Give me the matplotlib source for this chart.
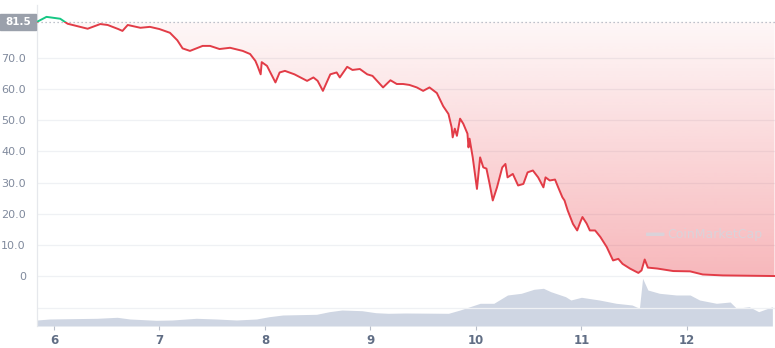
import numpy as np
import matplotlib
matplotlib.use("Agg")
import matplotlib.pyplot as plt
from matplotlib.patches import Rectangle, Circle
from matplotlib.transforms import blended_transform_factory

# ---- data ----
price_day = [5.84, 5.93, 6.06, 6.13, 6.32, 6.44, 6.51, 6.61, 6.65, 6.70, 6.82, 6.91, 7.00, 7.10,
             7.17, 7.22, 7.29, 7.41, 7.48, 7.57, 7.67, 7.79, 7.86, 7.91, 7.93, 7.96, 7.97, 8.02,
             8.10, 8.14, 8.19, 8.28, 8.40, 8.46, 8.50, 8.55, 8.62, 8.68, 8.71, 8.78, 8.83, 8.90,
             8.97, 9.02, 9.12, 9.19, 9.25, 9.31, 9.37, 9.44, 9.50, 9.56, 9.63, 9.69, 9.74, 9.77,
             9.78, 9.80, 9.82, 9.85, 9.88, 9.92, 9.93, 9.94, 9.97, 10.01, 10.04, 10.07, 10.10,
             10.13, 10.16, 10.20, 10.25, 10.28, 10.30, 10.35, 10.40, 10.45, 10.49, 10.54, 10.59,
             10.64, 10.66, 10.70, 10.75, 10.78, 10.82, 10.84, 10.87, 10.92, 10.96, 10.99, 11.01,
             11.05, 11.08, 11.13, 11.18, 11.24, 11.30, 11.35, 11.39, 11.46, 11.54, 11.57, 11.60,
             11.63, 11.72, 11.87, 12.03, 12.15, 12.34, 12.83]
price_val = [81.5, 83.1, 82.5, 80.9, 79.3, 80.8, 80.5, 79.2, 78.6, 80.5, 79.6, 79.9, 79.2, 78.0,
             75.6, 73.0, 72.2, 73.8, 73.8, 72.8, 73.2, 72.2, 71.2, 69.0, 67.4, 64.7, 68.6, 67.4,
             62.1, 65.3, 65.8, 64.7, 62.6, 63.7, 62.6, 59.4, 64.7, 65.3, 63.7, 67.1, 66.1, 66.4,
             64.7, 64.2, 60.5, 62.8, 61.6, 61.6, 61.3, 60.5, 59.4, 60.5, 58.7, 54.5, 52.0, 47.7,
             44.5, 47.3, 45.0, 50.5, 48.9, 45.7, 41.3, 44.1, 38.1, 28.0, 38.1, 34.9, 34.5,
             29.6, 24.3, 28.5, 34.9, 36.0, 31.7, 32.8, 29.1, 29.6, 33.3, 33.9, 31.7,
             28.5, 31.7, 30.7, 31.0, 28.5, 25.3, 24.3, 21.1, 16.8, 14.7, 17.4, 19.0,
             16.9, 14.7, 14.7, 12.6, 9.4, 5.1, 5.6, 4.0, 2.5, 1.1, 1.9, 5.4,
             2.8, 2.5, 1.7, 1.6, 0.6, 0.3, 0.1]

vol_day = [5.84, 5.96, 6.41, 6.60, 6.72, 6.97, 7.12, 7.35, 7.54, 7.73, 7.92, 8.04, 8.17, 8.49,
           8.61, 8.73, 8.92, 9.05, 9.17, 9.33, 9.74, 9.85, 10.04, 10.17, 10.30, 10.43, 10.55, 10.64,
           10.71, 10.85, 10.90, 11.00, 11.17, 11.33, 11.48, 11.55, 11.58, 11.63, 11.74, 11.90,
           12.03, 12.12, 12.28, 12.41, 12.47, 12.59, 12.68, 12.81]
vol_val = [6.0, 7.0, 7.7, 8.7, 7.0, 5.7, 6.0, 7.7, 7.0, 6.0, 7.0, 9.3, 11.0, 11.7,
           14.3, 16.0, 15.3, 13.3, 12.7, 13.0, 12.7, 16.0, 22.7, 22.7, 31.0, 32.7, 36.7, 37.7,
           34.3, 29.3, 26.0, 28.7, 26.0, 22.7, 21.0, 17.7, 47.7, 36.0, 32.7, 31.0,
           31.0, 26.0, 22.7, 24.0, 17.7, 19.3, 14.3, 19.3]

open_price = 81.5
y_ticks = [0, 10, 20, 30, 40, 50, 60, 70]
y_labels = ["0", "10.0", "20.0", "30.0", "40.0", "50.0", "60.0", "70.0"]
x_ticks = [6, 7, 8, 9, 10, 11, 12]
x_labels = ["6", "7", "8", "9", "10", "11", "12"]

# ---- styling ----
RED = "#e23c47"
GREEN = "#16c784"
GRID = "#eff1f4"
LABEL = "#808a9d"

W, H = 775, 348
fig = plt.figure(figsize=(W / 100, H / 100), dpi=100)
ax = fig.add_axes([37 / W, 22 / H, 1 - 37 / W, (326 - 5) / H])
x = np.array(price_day)
y = np.array(price_val)
x0, x1 = 5.84, 12.835
ax.set_xlim(x0, x1)
ax.set_ylim(-15.9, 86.9)

# grid
for t in y_ticks + [-10]:
    ax.axhline(t, color=GRID, lw=0.9, zorder=0)

# volume on twin axis
axv = ax.twinx()
axv.set_ylim(0, 321)
axv.fill_between(vol_day, vol_val, 0, color="#cfd6e3", lw=0, zorder=1)
axv.axis("off")
ax.set_zorder(axv.get_zorder() + 1)
ax.patch.set_visible(False)

# gradient fill between line and open price
poly = ax.fill_between(x, np.minimum(y, open_price), open_price, color="none", lw=0)
grad = np.linspace(0.04, 0.36, 256).reshape(-1, 1)
rgba = np.zeros((256, 1, 4))
rgba[..., 0] = 234 / 255
rgba[..., 1] = 57 / 255
rgba[..., 2] = 67 / 255
rgba[..., 3] = grad
img = ax.imshow(rgba, extent=[x0, x1, 0, open_price], origin="upper", aspect="auto",
                zorder=1, interpolation="bilinear")
img.set_clip_path(poly.get_paths()[0], transform=ax.transData)

# price line: green above open, red below
l1, = ax.plot(x, y, color=RED, lw=1.4, zorder=3, solid_joinstyle="round")
l1.set_clip_path(Rectangle((x0, -20), x1 - x0, open_price + 20, transform=ax.transData))
l2, = ax.plot(x, y, color=GREEN, lw=1.4, zorder=3, solid_joinstyle="round")
l2.set_clip_path(Rectangle((x0, open_price), x1 - x0, 20, transform=ax.transData))

# open price dotted line and label
ax.axhline(open_price, color="#aab1bd", lw=0.9, ls=(0, (1, 2.2)), zorder=2)
tr = blended_transform_factory(fig.transFigure, ax.transData)
ax.add_patch(Rectangle((0, open_price - 2.6), 36 / W, 5.2, transform=tr, color="#9aa0ab",
                       clip_on=False, zorder=5))
ax.text(18 / W, open_price, "81.5", transform=tr, ha="center", va="center",
        color="white", fontsize=7.5, fontweight="bold", zorder=6)

# watermark
ax.text(11.815, 13.5, "CoinMarketCap", color="#d3d7df", alpha=0.8, fontsize=9,
        ha="left", va="center", zorder=2)
ax.add_patch(Circle((11.70, 13.5), 0.085, transform=ax.transData, fill=False,
                    ec="#d3d7df", lw=2, alpha=0.8, zorder=2))

# axes formatting
ax.set_yticks(y_ticks)
ax.set_yticklabels(y_labels)
ax.set_xticks(x_ticks)
ax.set_xticklabels(x_labels)
ax.tick_params(axis="y", length=0, pad=8, labelsize=8, labelcolor=LABEL)
ax.tick_params(axis="x", length=3, width=0.8, color="#b8bec9", pad=3, labelsize=8.5,
               labelcolor="#616e85")
for lbl in ax.get_xticklabels():
    lbl.set_fontweight("bold")
for s in ["top", "right", "bottom"]:
    ax.spines[s].set_visible(False)
ax.spines["left"].set_color("#e6e8ec")
ax.spines["left"].set_linewidth(0.9)

fig.savefig("out.png", dpi=100)
